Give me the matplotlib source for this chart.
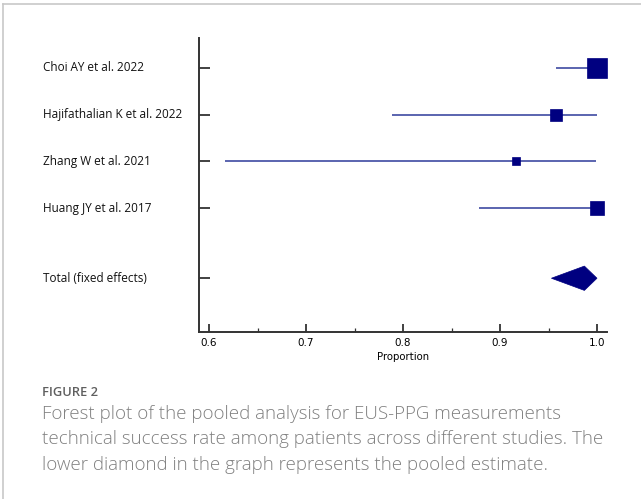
import matplotlib
matplotlib.use("Agg")
import matplotlib.pyplot as plt
from matplotlib.lines import Line2D
from matplotlib.patches import Polygon
import numpy as np

# study estimates (proportion) and 95% CI
studies = ["Choi AY et al. 2022", "Hajifathalian K et al. 2022",
           "Zhang W et al. 2021", "Huang JY et al. 2017"]
estimate = [1.000, 0.958, 0.917, 1.000]
ci_low = [0.958, 0.789, 0.616, 0.878]
ci_high = [1.000, 1.000, 0.999, 1.000]
weights = [40, 15, 7, 20]

total_label = "Total (fixed effects)"
total_est = 0.987
total_low = 0.953
total_high = 1.000

xticks = [0.6, 0.7, 0.8, 0.9, 1.0]
xminor = [0.65, 0.75, 0.85, 0.95]

caption_head = "FIGURE 2"
caption_lines = [
    "Forest plot of the pooled analysis for EUS-PPG measurements",
    "technical success rate among patients across different studies. The",
    "lower diamond in the graph represents the pooled estimate.",
]

W, H = 641, 499
fig = plt.figure(figsize=(W / 100, H / 100), dpi=100)

# axes box in pixels: x 199..607, y 38..332
ax = fig.add_axes([199 / W, 1 - 332 / H, 408 / W, 294 / H])
ax.set_xlim(0.6 - 10 / 970, 1.0 + 10 / 970)
ax.set_ylim(5.65, -0.64)

navy = "#000080"
line_col = "#2d3b9a"

rows = np.arange(len(studies))
for y, est, lo, hi, w in zip(rows, estimate, ci_low, ci_high, weights):
    ax.plot([lo, hi], [y, y], color=line_col, lw=1.1, zorder=2, solid_capstyle="butt")
    size_px = 3.2 * np.sqrt(w)
    ax.plot(est, y, marker="s", ms=size_px * 0.72, color=navy, mec=navy, mew=0.5, zorder=3)

y_total = 4.5
dh = 0.26
diamond = Polygon([[total_low, y_total], [total_est, y_total - dh],
                   [total_high, y_total], [total_est, y_total + dh]],
                  closed=True, facecolor=navy, edgecolor=navy, lw=0.5, zorder=3)
ax.add_patch(diamond)

ax.set_yticks(list(rows) + [y_total])
ax.set_yticklabels([""] * (len(studies) + 1))
ax.set_xticks(xticks)
ax.set_xticklabels([f"{t:.1f}" for t in xticks], fontsize=7.5, family="DejaVu Sans")
ax.set_xticks(xminor, minor=True)
ax.tick_params(axis="both", which="major", direction="in", length=6, width=1.3, color="#333333", pad=4)
ax.tick_params(axis="x", which="minor", direction="in", length=3, width=0.9, color="#333333")
ax.tick_params(axis="y", length=8)
ax.set_xlabel("Proportion", fontsize=7.3, family="DejaVu Sans", labelpad=3)

for side in ["top", "right"]:
    ax.spines[side].set_visible(False)
for side in ["left", "bottom"]:
    ax.spines[side].set_color("#333333")
    ax.spines[side].set_linewidth(1.4)

# study labels at left
for y, name in zip(list(rows) + [y_total], studies + [total_label]):
    ax.text(43, ax.transData.transform((0, y))[1], name, transform=None,
            fontsize=8.5, family="Open Sans", va="center", ha="left", color="#111111")

# caption
fig.text(42 / W, 1 - 392 / H, caption_head, fontsize=9.3, family="Open Sans",
         weight="semibold", color="#5f5f5f", va="center", ha="left")
for i, line in enumerate(caption_lines):
    fig.text(42 / W, 1 - (414 + 25.5 * i) / H, line, fontsize=13.5, family="Open Sans",
             weight="light", color="#808080", va="center", ha="left")

# frame lines (top and left)
fig.add_artist(Line2D([3 / W, 1], [1 - 4 / H, 1 - 4 / H], color="#c8c8c8", lw=1.2))
fig.add_artist(Line2D([3 / W, 3 / W], [0, 1 - 4 / H], color="#c8c8c8", lw=1.2))

fig.savefig("out.png", dpi=100)
